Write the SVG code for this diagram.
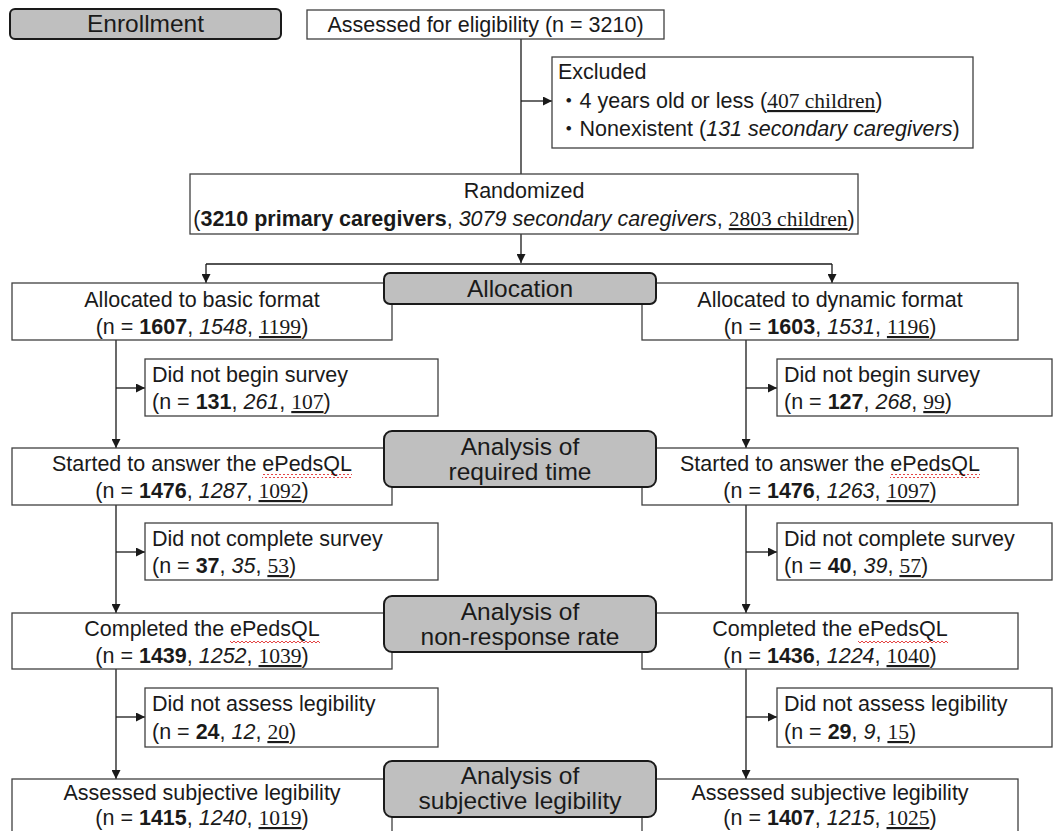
<svg xmlns="http://www.w3.org/2000/svg" width="1063" height="831" viewBox="0 0 1063 831">
<style>
.box{fill:#fff;stroke:#404040;stroke-width:1.3}
.lbl{fill:#bfbfbf;stroke:#1a1a1a;stroke-width:2}
text{font-family:"Liberation Sans",Arial,sans-serif;font-size:21.5px;fill:#1a1a1a}
.c{text-anchor:middle}
.L{font-size:24.5px}
.b{font-weight:bold}
.i{font-style:italic}
.u{font-family:"Liberation Serif","Times New Roman",serif;text-decoration:underline}
.dot{font-family:"Noto Sans CJK JP",sans-serif}
.cn line,.cn path{stroke:#1a1a1a;stroke-width:1.3;fill:none}
.sq{fill:url(#wave)}
</style>
<defs>
<marker id="ar" viewBox="0 0 10 10" refX="10" refY="5" markerWidth="9" markerHeight="9" markerUnits="userSpaceOnUse" orient="auto">
<path d="M0,0 L10,5 L0,10 z" fill="#1a1a1a"/>
</marker>
<pattern id="wave" patternUnits="userSpaceOnUse" width="4" height="4">
<path d="M0,3 L2,1 L4,3" fill="none" stroke="#e03030" stroke-width="0.9"/>
</pattern>
</defs>

<g class="cn" id="connectors">
<line x1="521" y1="39" x2="521" y2="174"/>
<line x1="521" y1="101" x2="552" y2="101" marker-end="url(#ar)"/>
<line x1="521" y1="234" x2="521" y2="263" marker-end="url(#ar)"/>
<line x1="206" y1="264" x2="832" y2="264"/>
<line x1="206" y1="264" x2="206" y2="283" marker-end="url(#ar)"/>
<line x1="832" y1="264" x2="832" y2="283" marker-end="url(#ar)"/>
<line x1="116" y1="340" x2="116" y2="448" marker-end="url(#ar)"/>
<line x1="116" y1="388" x2="145" y2="388" marker-end="url(#ar)"/>
<line x1="746" y1="340" x2="746" y2="448" marker-end="url(#ar)"/>
<line x1="746" y1="388" x2="777" y2="388" marker-end="url(#ar)"/>
<line x1="116" y1="505" x2="116" y2="613" marker-end="url(#ar)"/>
<line x1="116" y1="552" x2="145" y2="552" marker-end="url(#ar)"/>
<line x1="746" y1="505" x2="746" y2="613" marker-end="url(#ar)"/>
<line x1="746" y1="552" x2="777" y2="552" marker-end="url(#ar)"/>
<line x1="116" y1="669" x2="116" y2="779" marker-end="url(#ar)"/>
<line x1="116" y1="717" x2="145" y2="717" marker-end="url(#ar)"/>
<line x1="746" y1="669" x2="746" y2="779" marker-end="url(#ar)"/>
<line x1="746" y1="717" x2="777" y2="717" marker-end="url(#ar)"/>
</g>

<g id="enrollment">
<rect class="lbl" x="10" y="9" width="271" height="30" rx="5"/>
<text class="c L" x="145.5" y="32">Enrollment</text>
</g>

<g id="assessed">
<rect class="box" x="307" y="10" width="357" height="29"/>
<text class="c" x="485.5" y="32">Assessed for eligibility (n = 3210)</text>
</g>

<g id="excluded">
<rect class="box" x="552" y="57" width="421" height="91"/>
<text x="558" y="79">Excluded</text>
<text x="558" y="108"><tspan class="dot">・</tspan>4 years old or less (<tspan class="u">407 children</tspan>)</text>
<text x="558" y="136"><tspan class="dot">・</tspan>Nonexistent (<tspan class="i">131 secondary caregivers</tspan>)</text>
</g>

<g id="randomized">
<rect class="box" x="190" y="174" width="668" height="60"/>
<text class="c" x="524" y="198">Randomized</text>
<text class="c" x="524" y="226">(<tspan class="b">3210 primary caregivers</tspan>, <tspan class="i">3079 secondary caregivers</tspan>, <tspan class="u">2803 children</tspan>)</text>
</g>

<g id="basic">
<rect class="box" x="12" y="283" width="380" height="57"/>
<text class="c" x="202" y="307">Allocated to basic format</text>
<text class="c" x="202" y="334">(n = <tspan class="b">1607</tspan>, <tspan class="i">1548</tspan>, <tspan class="u">1199</tspan>)</text>
</g>

<g id="dynamic">
<rect class="box" x="642" y="283" width="376" height="57"/>
<text class="c" x="830" y="307">Allocated to dynamic format</text>
<text class="c" x="830" y="334">(n = <tspan class="b">1603</tspan>, <tspan class="i">1531</tspan>, <tspan class="u">1196</tspan>)</text>
</g>

<g id="allocation">
<rect class="lbl" x="384" y="273" width="272" height="31" rx="6"/>
<text class="c L" x="520" y="297">Allocation</text>
</g>

<g id="nobegin-basic">
<rect class="box" x="145" y="359" width="293" height="57"/>
<text x="152" y="382">Did not begin survey</text>
<text x="152" y="409">(n = <tspan class="b">131</tspan>, <tspan class="i">261</tspan>, <tspan class="u">107</tspan>)</text>
</g>

<g id="nobegin-dynamic">
<rect class="box" x="777" y="359" width="275" height="57"/>
<text x="784" y="382">Did not begin survey</text>
<text x="784" y="409">(n = <tspan class="b">127</tspan>, <tspan class="i">268</tspan>, <tspan class="u">99</tspan>)</text>
</g>

<g id="started-basic">
<rect class="box" x="12" y="448" width="380" height="57"/>
<text class="c" x="202" y="471">Started to answer the ePedsQL</text>
<rect class="sq" x="262" y="474" width="90" height="4"/>
<text class="c" x="202" y="498">(n = <tspan class="b">1476</tspan>, <tspan class="i">1287</tspan>, <tspan class="u">1092</tspan>)</text>
</g>

<g id="started-dynamic">
<rect class="box" x="642" y="448" width="376" height="57"/>
<text class="c" x="830" y="471">Started to answer the ePedsQL</text>
<rect class="sq" x="890" y="474" width="90" height="4"/>
<text class="c" x="830" y="498">(n = <tspan class="b">1476</tspan>, <tspan class="i">1263</tspan>, <tspan class="u">1097</tspan>)</text>
</g>

<g id="required-time">
<rect class="lbl" x="384" y="431" width="272" height="56" rx="8"/>
<text class="c L" x="520" y="455">Analysis of</text>
<text class="c L" x="520" y="480">required time</text>
</g>

<g id="incomplete-basic">
<rect class="box" x="145" y="523" width="293" height="57"/>
<text x="152" y="546">Did not complete survey</text>
<text x="152" y="573">(n = <tspan class="b">37</tspan>, <tspan class="i">35</tspan>, <tspan class="u">53</tspan>)</text>
</g>

<g id="incomplete-dynamic">
<rect class="box" x="777" y="523" width="275" height="57"/>
<text x="784" y="546">Did not complete survey</text>
<text x="784" y="573">(n = <tspan class="b">40</tspan>, <tspan class="i">39</tspan>, <tspan class="u">57</tspan>)</text>
</g>

<g id="completed-basic">
<rect class="box" x="12" y="613" width="380" height="56"/>
<text class="c" x="202" y="636">Completed the ePedsQL</text>
<rect class="sq" x="230" y="639" width="90" height="4"/>
<text class="c" x="202" y="663">(n = <tspan class="b">1439</tspan>, <tspan class="i">1252</tspan>, <tspan class="u">1039</tspan>)</text>
</g>

<g id="completed-dynamic">
<rect class="box" x="642" y="613" width="376" height="56"/>
<text class="c" x="830" y="636">Completed the ePedsQL</text>
<rect class="sq" x="858" y="639" width="90" height="4"/>
<text class="c" x="830" y="663">(n = <tspan class="b">1436</tspan>, <tspan class="i">1224</tspan>, <tspan class="u">1040</tspan>)</text>
</g>

<g id="nonresponse">
<rect class="lbl" x="384" y="596" width="272" height="56" rx="8"/>
<text class="c L" x="520" y="620">Analysis of</text>
<text class="c L" x="520" y="645">non-response rate</text>
</g>

<g id="nolegibility-basic">
<rect class="box" x="145" y="688" width="293" height="59"/>
<text x="152" y="711">Did not assess legibility</text>
<text x="152" y="739">(n = <tspan class="b">24</tspan>, <tspan class="i">12</tspan>, <tspan class="u">20</tspan>)</text>
</g>

<g id="nolegibility-dynamic">
<rect class="box" x="777" y="688" width="275" height="59"/>
<text x="784" y="711">Did not assess legibility</text>
<text x="784" y="739">(n = <tspan class="b">29</tspan>, <tspan class="i">9</tspan>, <tspan class="u">15</tspan>)</text>
</g>

<g id="legibility-basic">
<rect class="box" x="12" y="779" width="380" height="70"/>
<text class="c" x="202" y="800">Assessed subjective legibility</text>
<text class="c" x="202" y="825">(n = <tspan class="b">1415</tspan>, <tspan class="i">1240</tspan>, <tspan class="u">1019</tspan>)</text>
</g>

<g id="legibility-dynamic">
<rect class="box" x="642" y="779" width="376" height="70"/>
<text class="c" x="830" y="800">Assessed subjective legibility</text>
<text class="c" x="830" y="825">(n = <tspan class="b">1407</tspan>, <tspan class="i">1215</tspan>, <tspan class="u">1025</tspan>)</text>
</g>

<g id="subjective">
<rect class="lbl" x="384" y="761" width="272" height="56" rx="8"/>
<text class="c L" x="520" y="784">Analysis of</text>
<text class="c L" x="520" y="809">subjective legibility</text>
</g>
</svg>
